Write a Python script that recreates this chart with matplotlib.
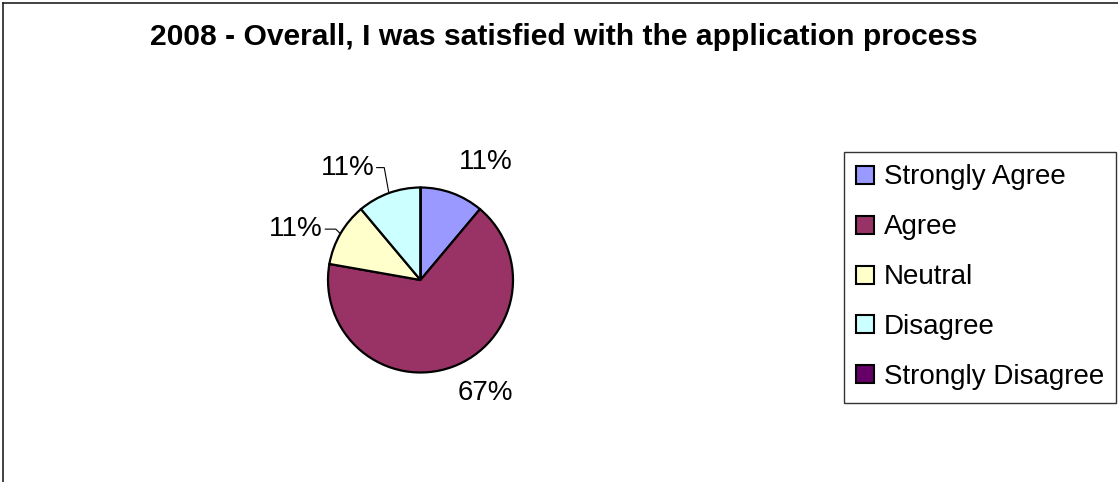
import matplotlib
matplotlib.use("Agg")
import matplotlib.pyplot as plt
import numpy as np
from matplotlib.patches import Patch
from matplotlib.lines import Line2D

plt.rcParams['font.family'] = ['Liberation Sans', 'DejaVu Sans']

# ---- data ----
categories = ["Strongly Agree", "Agree", "Neutral", "Disagree", "Strongly Disagree"]
counts = [1, 6, 1, 1, 0]
colors = ["#9999FF", "#993366", "#FFFFCC", "#CCFFFF", "#660066"]
title = "2008 - Overall, I was satisfied with the application process"

# ---- layout ----
W, H = 1118, 482
fig = plt.figure(figsize=(W / 100, H / 100), dpi=100)
fig.patch.set_facecolor("white")

# outer frame (left and top edges visible)
fig.add_artist(Line2D([3 / W, 3 / W], [0, 1 - 3 / H], transform=fig.transFigure, color="#222222", lw=1.2))
fig.add_artist(Line2D([3 / W, 1], [1 - 3 / H, 1 - 3 / H], transform=fig.transFigure, color="#222222", lw=1.2))

fig.text(564 / W, 1 - 37 / H, title, ha="center", va="center", fontsize=21.6, fontweight="bold")

# pie axes: centre (420.5, 280) px, radius 92.5 px -> 1 unit
cx, cy, r = 420.5, 280, 92.5
ax = fig.add_axes([(cx - 2 * r) / W, (H - cy - 2 * r) / H, 4 * r / W, 4 * r / H])

wedges, _ = ax.pie(counts, colors=colors, startangle=90, counterclock=False, radius=1,
                   wedgeprops=dict(edgecolor="black", linewidth=1.6))
ax.set_xlim(-2, 2)
ax.set_ylim(-2, 2)
ax.set_aspect("auto")
ax.axis("off")

total = sum(counts)
# label placement (data units relative to pie centre); leader flag
label_pos = {0: (0.708, 1.276, False), 1: (0.697, -1.222, False),
             2: (-1.055, 0.55, True), 3: (-0.50, 1.215, True)}
for i, w in enumerate(wedges):
    if counts[i] == 0:
        continue
    pct = f"{round(100 * counts[i] / total):d}%"
    lx, ly, leader = label_pos[i]
    if leader:
        mid = np.deg2rad((w.theta1 + w.theta2) / 2)
        ex, ey = np.cos(mid), np.sin(mid)
        elbow = ex - 0.05
        ax.plot([lx + 0.02, elbow, ex], [ly, ly, ey], color="black", lw=0.8, solid_capstyle="butt")
        ax.text(lx, ly, pct, ha="right", va="center", fontsize=20)
    else:
        ax.text(lx, ly, pct, ha="center", va="center", fontsize=20)

handles = [Patch(facecolor=c, edgecolor="black", linewidth=1.5) for c in colors]
leg = fig.legend(handles, categories, loc="upper left", bbox_to_anchor=(844 / W, 1 - 152 / H),
                 bbox_transform=fig.transFigure, fontsize=20, frameon=True, fancybox=False,
                 edgecolor="black", handlelength=0.62, handleheight=0.62, handletextpad=0.36,
                 borderpad=0.45, borderaxespad=0, labelspacing=0.86)
leg.get_frame().set_linewidth(1.0)

fig.savefig("out.png", dpi=100, facecolor="white")
